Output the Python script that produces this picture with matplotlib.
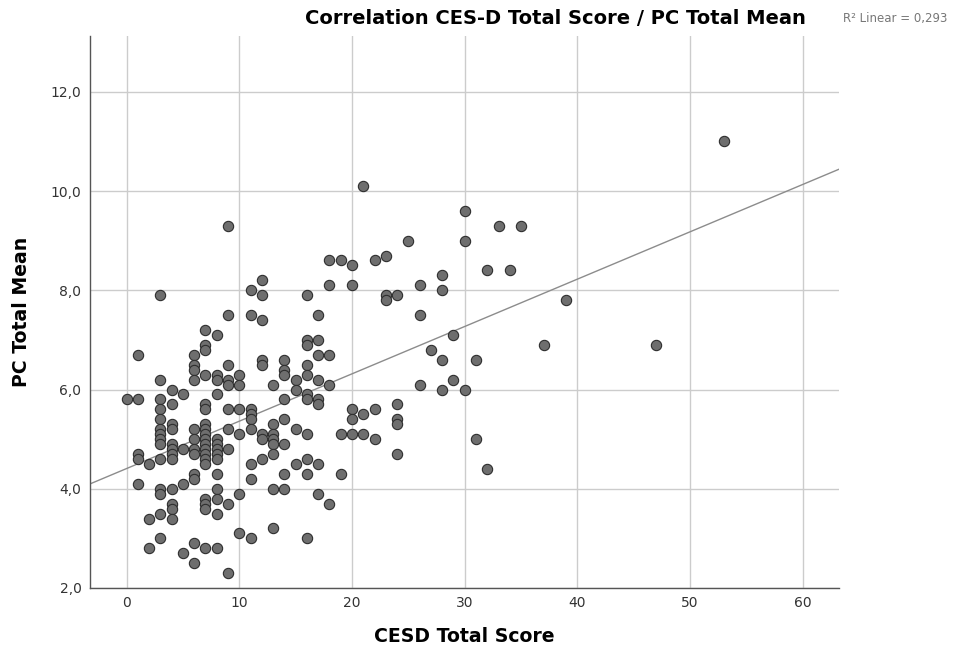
import matplotlib
matplotlib.use('Agg')
import matplotlib.pyplot as plt
import numpy as np

# CES-D total score (x) and the PC total mean values read at each score
cesd_scores = [0, 1, 2, 3, 4, 5, 6, 7, 8, 9, 10, 11, 12, 13, 14, 15, 16, 17, 18, 19,
               20, 21, 22, 23, 24, 25, 26, 27, 28, 29, 30, 31, 32, 33, 34, 35, 37, 39, 47, 53]

pc_means = [
    [5.8],
    [6.7, 5.8, 4.7, 4.6, 4.1],
    [4.5, 3.4, 2.8],
    [7.9, 6.2, 5.8, 5.6, 5.4, 5.2, 5.1, 5.0, 4.9, 4.6, 4.0, 3.9, 3.5, 3.0],
    [6.0, 5.7, 5.3, 5.2, 4.9, 4.8, 4.7, 4.6, 4.0, 3.7, 3.6, 3.4],
    [5.9, 4.8, 4.1, 2.7],
    [6.7, 6.5, 6.4, 6.2, 5.2, 5.0, 4.8, 4.7, 4.3, 4.2, 2.9, 2.5],
    [7.2, 6.9, 6.8, 6.3, 5.7, 5.6, 5.3, 5.2, 5.1, 5.0, 4.9, 4.8, 4.7, 4.6, 4.5, 3.8, 3.7, 3.6, 2.8],
    [7.1, 6.3, 6.2, 5.9, 5.0, 4.9, 4.8, 4.7, 4.6, 4.3, 4.0, 3.8, 3.5, 2.8],
    [9.3, 7.5, 6.5, 6.2, 6.1, 5.6, 5.2, 4.8, 3.7, 2.3],
    [6.3, 6.1, 5.6, 5.1, 3.9, 3.1],
    [8.0, 7.5, 5.6, 5.5, 5.4, 5.2, 4.5, 4.2, 3.0],
    [8.2, 7.9, 7.4, 6.6, 6.5, 5.1, 5.0, 4.6],
    [6.1, 5.3, 5.1, 5.0, 4.9, 4.7, 4.0, 3.2],
    [6.6, 6.4, 6.3, 5.8, 5.4, 4.9, 4.3, 4.0],
    [6.2, 6.0, 5.2, 4.5],
    [7.9, 7.0, 6.9, 6.5, 6.3, 5.9, 5.8, 5.1, 4.6, 4.3, 3.0],
    [7.5, 7.0, 6.7, 6.2, 5.8, 5.7, 4.5, 3.9],
    [8.6, 8.1, 6.7, 6.1, 3.7],
    [8.6, 5.1, 4.3],
    [8.5, 8.1, 5.6, 5.4, 5.1],
    [10.1, 5.5, 5.1],
    [8.6, 5.6, 5.0],
    [8.7, 7.9, 7.8],
    [7.9, 5.7, 5.4, 5.3, 4.7],
    [9.0],
    [8.1, 7.5, 6.1],
    [6.8],
    [8.3, 8.0, 6.6, 6.0],
    [7.1, 6.2],
    [9.6, 9.0, 6.0],
    [6.6, 5.0],
    [8.4, 4.4],
    [9.3],
    [8.4],
    [9.3],
    [6.9],
    [7.8],
    [6.9],
    [11.0],
]

x_ticks = [0, 10, 20, 30, 40, 50, 60]
y_ticks = [2, 4, 6, 8, 10, 12]
y_tick_labels = ['2,0', '4,0', '6,0', '8,0', '10,0', '12,0']
r2_label = 'R\u00b2 Linear = 0,293'

x = np.array([s for s, vals in zip(cesd_scores, pc_means) for _ in vals], dtype=float)
y = np.array([v for vals in pc_means for v in vals], dtype=float)

fig = plt.figure(figsize=(9.71, 6.52), dpi=100)
ax = fig.add_axes([0.0924, 0.0982, 0.7716, 0.847])

xlim = (-3.27, 63.2)
ax.set_xlim(xlim)
ax.set_ylim(2.0, 13.13)

ax.grid(True, color='#cccccc', linewidth=1.0, zorder=0)
ax.set_axisbelow(True)

# fit line over the whole x range
slope, intercept = np.polyfit(x, y, 1)
xs = np.array(xlim)
ax.plot(xs, slope * xs + intercept, color='#8c8c8c', linewidth=1.0, zorder=2)

ax.scatter(x, y, s=55, facecolor='#6e6e6e', edgecolor='#2e2e2e', linewidth=0.8, zorder=3)

ax.set_xticks(x_ticks)
ax.set_yticks(y_ticks)
ax.set_yticklabels(y_tick_labels)
ax.tick_params(length=0, labelsize=10, labelcolor='#333333', pad=6)

for side in ['top', 'right']:
    ax.spines[side].set_visible(False)
for side in ['left', 'bottom']:
    ax.spines[side].set_color('#555555')
    ax.spines[side].set_linewidth(1.0)

ax.set_xlabel('CESD Total Score', fontsize=13.6, fontweight='bold', labelpad=12)
ax.set_ylabel('PC Total Mean', fontsize=13.6, fontweight='bold', labelpad=14)

fig.text(0.572, 0.972, 'Correlation CES-D Total Score / PC Total Mean',
         ha='center', va='center', fontsize=14, fontweight='bold')
fig.text(0.868, 0.972, r2_label, ha='left', va='center', fontsize=8.5, color='#777777')

fig.savefig('out.png', dpi=100)
